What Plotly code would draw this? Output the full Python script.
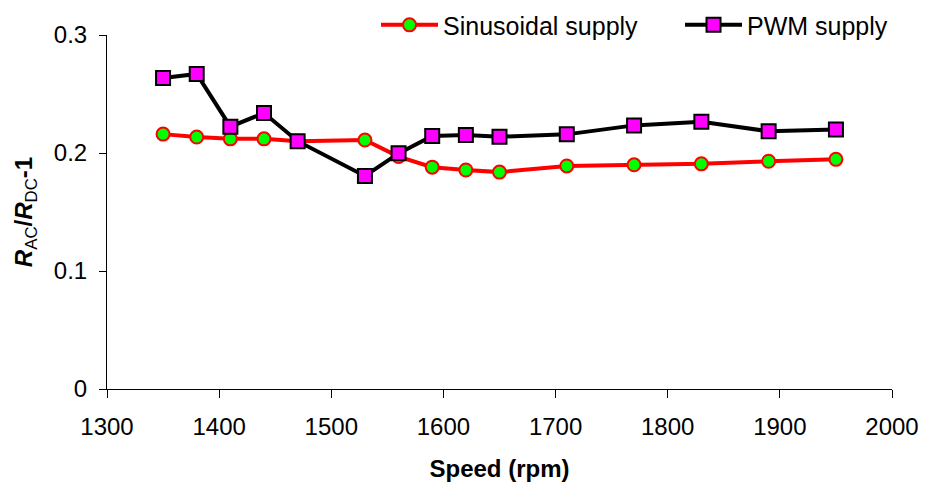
import plotly.graph_objects as go

speed = [1350, 1380, 1410, 1440, 1470, 1530, 1560, 1590, 1620, 1650, 1710, 1770, 1830, 1890, 1950]
sinusoidal = [0.216, 0.2135, 0.212, 0.212, 0.210, 0.211, 0.197, 0.188, 0.1856, 0.1838, 0.189, 0.190, 0.1908, 0.193, 0.1946]
pwm = [0.2636, 0.267, 0.2223, 0.2339, 0.210, 0.1805, 0.1997, 0.2144, 0.2153, 0.2138, 0.2158, 0.2234, 0.2265, 0.2184, 0.220]

x_ticks = [1300, 1400, 1500, 1600, 1700, 1800, 1900, 2000]
y_ticks = [0, 0.1, 0.2, 0.3]
y_labels = ["0", "0.1", "0.2", "0.3"]

FONT = "Liberation Sans, Arial, sans-serif"

fig = go.Figure()
fig.add_trace(go.Scatter(
    x=speed, y=sinusoidal, name="Sinusoidal supply", mode="lines+markers",
    line=dict(color="#FF0000", width=4),
    marker=dict(symbol="circle", size=13, color="#00FF00", line=dict(color="#FF0000", width=2)),
))
fig.add_trace(go.Scatter(
    x=speed, y=pwm, name="PWM supply", mode="lines+markers",
    line=dict(color="#000000", width=4),
    marker=dict(symbol="square", size=14, color="#FF00FF", line=dict(color="#000000", width=2)),
))

fig.update_layout(
    width=930, height=482,
    margin=dict(l=107, r=38, t=35, b=93, autoexpand=False),
    paper_bgcolor="white", plot_bgcolor="white",
    font=dict(family=FONT, size=24, color="black"),
    showlegend=True,
    legend=dict(
        orientation="h", x=0.3427, y=1.028, xanchor="left", yanchor="middle",
        font=dict(size=25), bgcolor="rgba(0,0,0,0)", entrywidth=232, itemwidth=57,
    ),
    xaxis=dict(
        range=[1300, 2000], tickvals=x_ticks, ticktext=[str(v) for v in x_ticks],
        showline=True, linecolor="black", linewidth=1, ticks="outside", ticklen=8,
        tickcolor="black", showgrid=False, zeroline=False, ticklabelstandoff=8,
        title=dict(text="<b>Speed (rpm)</b>", font=dict(size=24), standoff=22),
    ),
    yaxis=dict(
        range=[0, 0.3], tickvals=y_ticks, ticktext=y_labels,
        showline=True, linecolor="black", linewidth=1, ticks="outside", ticklen=7,
        tickcolor="black", showgrid=False, zeroline=False, ticklabelstandoff=7,
        title=dict(text="<b><i>R</i></b><sub>AC</sub><b>/<i>R</i></b><sub>DC</sub><b>-1</b>",
                   font=dict(size=24), standoff=14),
    ),
)

fig.write_html("out.html")
